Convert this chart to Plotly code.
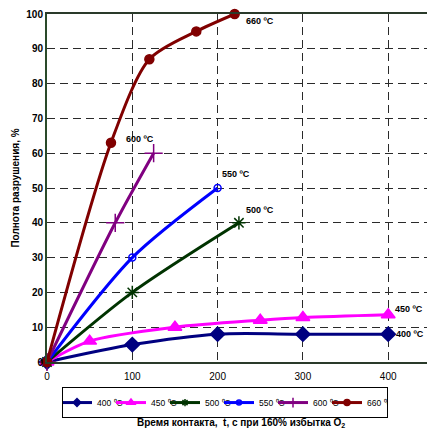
import plotly.graph_objects as go

# Data
t400 = [0, 100, 200, 300, 400]
y400 = [0, 5, 8, 8, 8]
t450 = [0, 50, 150, 250, 300, 400]
y450 = [0, 6, 10, 12, 12.8, 13.6]
t500 = [0, 100, 225]
y500 = [0, 20, 40]
t550 = [0, 100, 200]
y550 = [0, 30, 50]
t600 = [0, 80, 125]
y600 = [0, 40, 60]
t660 = [0, 75, 120, 175, 220]
y660 = [0, 63, 87, 95, 100]
x_ticks = [0, 100, 200, 300, 400]

names = ["400 ⁰C", "450 ⁰C", "500 ⁰C", "550 ⁰C", "600 ⁰C", "660 ⁰C\""]
labels = ["400 ºC", "450 ºC", "500 ºC", "550 ºC", "600 ºC", "660 ºC"]
colors = ["#000080", "#ff00ff", "#003300", "#0000ff", "#800080", "#800000"]
symbols = ["diamond", "triangle-up", "asterisk-open", "circle-open", "cross-thin-open", "circle"]
sizes = [11, 12, 11, 7, 13, 9]
leg_sizes = [6, 7, 6, 5, 7, 6]
xs = [t400, t450, t500, t550, t600, t660]
ys = [y400, y450, y500, y550, y600, y660]

FONT = "Liberation Sans, Arial, sans-serif"
fig = go.Figure()
for n, c, s, sz, x, y in zip(names, colors, symbols, sizes, xs, ys):
    fig.add_trace(go.Scatter(
        x=x, y=y, name=n, mode="lines+markers", showlegend=False,
        line=dict(color=c, width=3, shape="spline", smoothing=0.8),
        marker=dict(symbol=s, size=sz, color=c, line=dict(color=c, width=1.5)),
        cliponaxis=False,
    ))
# legend entries with small symbols (no data drawn)
for n, c, s, sz in zip(names, colors, symbols, leg_sizes):
    fig.add_trace(go.Scatter(
        x=[None], y=[None], name=n, mode="lines+markers", showlegend=True,
        line=dict(color=c, width=3),
        marker=dict(symbol=s, size=sz, color=c, line=dict(color=c, width=1.5)),
    ))

# Labels near the series ends
offsets = [(6, 0, "left"), (5, 6, "left"), (5, 13, "left"), (2, 14, "left"), (-14, 14, "center"), (9, -7, "left")]
for lab, (dx, dy, xa), x, y in zip(labels, offsets, xs, ys):
    fig.add_annotation(x=x[-1], y=y[-1], text="<b>" + lab + "</b>", showarrow=False,
                       xanchor=xa, yanchor="middle", xshift=dx, yshift=dy,
                       font=dict(size=9, color="black", family=FONT))

W = 470
L = 47
plot_w = W - L
fig.add_annotation(xref="paper", yref="paper", x=(241 - L) / plot_w, y=-0.175,
                   text="<b>Время контакта,  t, с при 160% избытка O<sub>2</sub></b>",
                   showarrow=False, xanchor="center", yanchor="middle",
                   font=dict(size=10, color="black", family=FONT))

grid = dict(showgrid=True, gridcolor="#2a2a2a", griddash="8px,5px", gridwidth=1)
fig.update_layout(
    width=W, height=431,
    margin=dict(l=L, r=0, t=14, b=69, autoexpand=False),
    paper_bgcolor="white", plot_bgcolor="white",
    font=dict(family=FONT, size=10, color="black"),
    showlegend=True,
    legend=dict(orientation="h", x=(62 - L) / plot_w, y=-0.072, xanchor="left", yanchor="top",
                bordercolor="black", borderwidth=1, font=dict(size=8.5),
                itemwidth=30, entrywidth=15, indentation=-6, tracegroupgap=0),
    xaxis=dict(range=[0, plot_w / 0.853], tickvals=x_ticks, showline=True, linecolor="#2a3a2a",
               linewidth=2, mirror=True, ticks="", zeroline=False, automargin=False,
               tickfont=dict(size=10, family=FONT), ticklabelstandoff=4, **grid),
    yaxis=dict(range=[0, 100], dtick=10, tick0=0, showline=True, linecolor="#2a4a2a",
               linewidth=2, ticks="", zeroline=False, automargin=False,
               tickfont=dict(size=10, family=FONT),
               title=dict(text="<b>Полнота разрушения, %</b>", font=dict(size=10), standoff=5),
               **grid),
)
fig.update_xaxes(tickprefix="<b>", ticksuffix="</b>")
fig.update_yaxes(tickprefix="<b>", ticksuffix="</b>")
fig.write_html("out.html", config={"displayModeBar": False},
               post_script="document.body.style.margin='0';document.body.style.overflow='hidden';")
